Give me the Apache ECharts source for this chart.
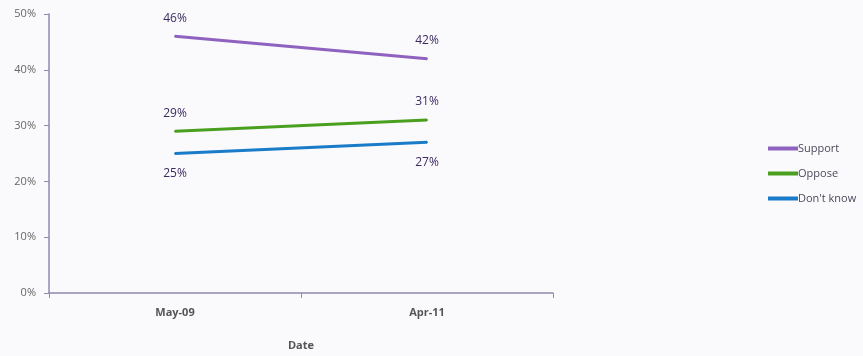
<!DOCTYPE html>
<html><head><meta charset="utf-8">
<script src="https://cdn.jsdelivr.net/npm/echarts@6/dist/echarts.min.js"></script>
<style>html,body{margin:0;padding:0;background:#fafafd;}#c{width:863px;height:356px;}</style>
</head><body><div id="c"></div>
<script>
const categories = ['May-09', 'Apr-11'];
const support = [46, 42];
const oppose = [29, 31];
const dontKnow = [25, 27];
const yTicks = [0, 10, 20, 30, 40, 50];

const FONT = '"Open Sans", "Noto Sans", sans-serif';
const chart = echarts.init(document.getElementById('c'));
function ser(name, data, color, pos, dist) {
  return {
    name, type: 'line', data, symbol: 'circle', symbolSize: 2, showSymbol: true,
    lineStyle: {width: 3, color},
    itemStyle: {color},
    label: {show: true, position: pos, distance: dist, formatter: p => p.value + '%',
      color: '#3c2a60', fontSize: 12, fontFamily: FONT},
    emphasis: {disabled: true}
  };
}
chart.setOption({
  backgroundColor: '#fafafd',
  animation: false,
  grid: {left: 49, right: 310, top: 14, bottom: 62},
  legend: {
    orient: 'vertical', left: 763, top: 138, itemWidth: 30, itemHeight: 4, itemGap: 14,
    icon: 'rect', textStyle: {color: '#4a4a5a', fontSize: 11, fontFamily: FONT, padding: [0,0,0,-5]},
    data: ['Support', 'Oppose', "Don't know"]
  },
  xAxis: {
    type: 'category', data: categories, boundaryGap: true,
    name: 'Date', nameLocation: 'middle', nameGap: 47,
    nameTextStyle: {color: '#555', fontSize: 11, fontWeight: 'bold', fontFamily: FONT},
    axisLine: {lineStyle: {color: '#9088b0', width: 1.5}},
    axisTick: {show: true, length: 5, inside: false, lineStyle: {color: '#9088b0'}},
    axisLabel: {color: '#555', fontSize: 11, fontWeight: 'bold', fontFamily: FONT, margin: 14}
  },
  yAxis: {
    type: 'value', min: 0, max: 50, interval: 10,
    axisLine: {show: true, lineStyle: {color: '#9088b0', width: 1.5}},
    axisTick: {show: true, length: 5, lineStyle: {color: '#9088b0'}},
    splitLine: {show: false},
    axisLabel: {color: '#666', fontSize: 11, fontFamily: FONT, margin: 13,
      formatter: v => yTicks.includes(v) ? v + '%' : ''}
  },
  series: [
    ser('Support', support, '#8f62bf', 'top', 11),
    ser('Oppose', oppose, '#4aa01e', 'top', 11),
    ser("Don't know", dontKnow, '#1a7bc8', 'bottom', 13)
  ]
});
</script></body></html>
